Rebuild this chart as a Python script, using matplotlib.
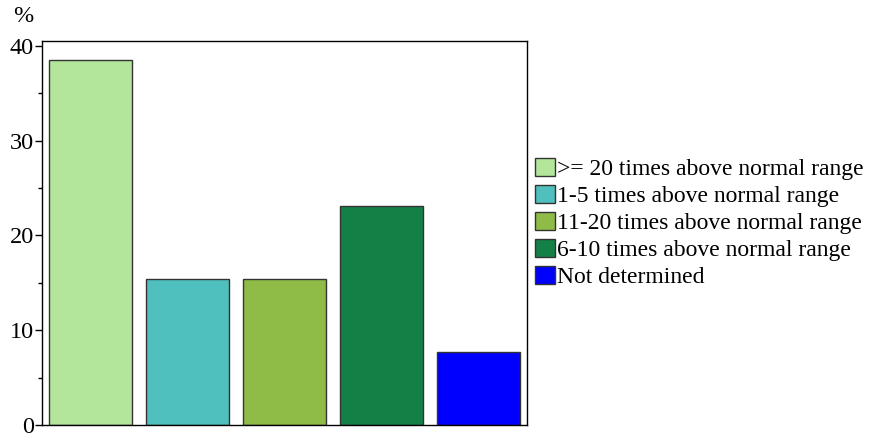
import matplotlib
matplotlib.use("Agg")
import matplotlib.pyplot as plt
from matplotlib.patches import Patch
from matplotlib.ticker import MultipleLocator

categories = [
    ">= 20 times above normal range",
    "1-5 times above normal range",
    "11-20 times above normal range",
    "6-10 times above normal range",
    "Not determined",
]
percent = [38.5, 15.4, 15.4, 23.1, 7.7]
colors = ["#b3e59b", "#4fc0bd", "#8fbb47", "#138046", "#0000ff"]
yticks = [0, 10, 20, 30, 40]

plt.rcParams["font.family"] = ["Liberation Serif", "DejaVu Serif"]

fig = plt.figure(figsize=(8.77, 4.34), dpi=100)
ax = fig.add_axes([42 / 877, 1 - 425 / 434, 485 / 877, 384 / 434])

x = list(range(len(categories)))
ax.bar(x, percent, width=0.856, color=colors, edgecolor="#333333", linewidth=1.0)

ax.set_xlim(-0.5, len(categories) - 0.5)
ax.set_ylim(0, 40.5)
ax.set_yticks(yticks)
ax.yaxis.set_minor_locator(MultipleLocator(5))
ax.set_xticks([])
ax.tick_params(axis="y", which="major", length=5, width=1, labelsize=17.5, pad=1)
ax.tick_params(axis="y", which="minor", length=3, width=1)
for s in ax.spines.values():
    s.set_linewidth(1)
    s.set_color("black")

fig.text(13 / 877, 1 - 16 / 434, "%", fontsize=17.5, ha="left", va="center")

handles = [Patch(facecolor=c, edgecolor="#333333", linewidth=1) for c in colors]
fig.legend(handles, categories, loc="center left",
           bbox_to_anchor=(535 / 877, 1 - 223 / 434),
           frameon=False, fontsize=17, handlelength=0.85, handleheight=0.8,
           handletextpad=0.1, labelspacing=0.2, borderpad=0, borderaxespad=0)

fig.savefig("out.png", dpi=100)
